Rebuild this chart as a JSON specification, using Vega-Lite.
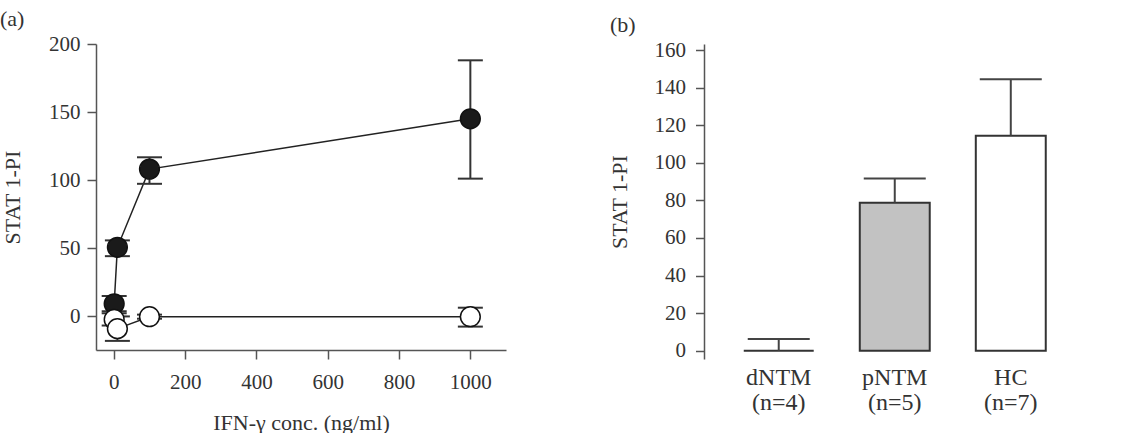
{
  "$schema": "https://vega.github.io/schema/vega-lite/v6.json",
  "padding": {"left": 0, "top": 7, "right": 0, "bottom": 0},
  "spacing": 102,
  "resolve": {"scale": {"fill": "independent"}},
  "config": {
    "font": "Liberation Serif",
    "view": {"stroke": null},
    "axis": {
      "labelFont": "Liberation Serif", "titleFont": "Liberation Serif",
      "labelColor": "#333", "titleColor": "#333",
      "domainColor": "#555", "tickColor": "#555",
      "domainWidth": 1.5, "tickWidth": 1.5,
      "grid": false, "labelFontSize": 21, "titleFontSize": 22, "titleFontWeight": "normal"
    },
    "title": {"font": "Liberation Serif", "fontSize": 22, "fontWeight": "normal", "color": "#333", "anchor": "start", "frame": "group", "offset": 2.3}
  },
  "hconcat": [
    {
      "width": 410, "height": 306,
      "title": {"text": "(a)", "dx": -96},
      "data": {"values": [
        {"conc": 1, "group": "stim", "mean": 9, "lo": 3.5, "hi": 14.7},
        {"conc": 10, "group": "stim", "mean": 50.5, "lo": 44, "hi": 55.6},
        {"conc": 100, "group": "stim", "mean": 108, "lo": 97.2, "hi": 116.7},
        {"conc": 1000, "group": "stim", "mean": 145, "lo": 101, "hi": 188},
        {"conc": 1, "group": "ctrl", "mean": -2.5, "lo": -7, "hi": 2},
        {"conc": 10, "group": "ctrl", "mean": -9.3, "lo": -18.3, "hi": -0.3},
        {"conc": 100, "group": "ctrl", "mean": -0.5, "lo": -2, "hi": 1},
        {"conc": 1000, "group": "ctrl", "mean": -0.5, "lo": -7.8, "hi": 6.1}
      ]},
      "encoding": {
        "x": {"field": "conc", "type": "quantitative",
          "scale": {"domain": [-50, 1100], "nice": false, "zero": false},
          "axis": {"values": [0, 200, 400, 600, 800, 1000], "format": "d", "title": "IFN-γ conc. (ng/ml)", "tickSize": 9, "labelPadding": 12, "titlePadding": 20}}
      },
      "layer": [
        {"mark": {"type": "line", "color": "#222", "strokeWidth": 1.5},
          "encoding": {
            "y": {"field": "mean", "type": "quantitative", "title": "STAT 1-PI",
              "scale": {"domain": [-25, 200], "nice": false, "zero": false},
              "axis": {"values": [0, 50, 100, 150, 200], "tickSize": 9, "labelPadding": 7, "titlePadding": 24}},
            "detail": {"field": "group"}}},
        {"mark": {"type": "rule", "color": "#333", "strokeWidth": 2},
          "encoding": {"y": {"field": "lo", "type": "quantitative", "title": "STAT 1-PI",
              "axis": {"values": [0, 50, 100, 150, 200], "tickSize": 9, "labelPadding": 7, "titlePadding": 24}}, "y2": {"field": "hi"}}},
        {"mark": {"type": "tick", "orient": "horizontal", "size": 25, "thickness": 2, "color": "#333", "opacity": 1},
          "encoding": {"y": {"field": "lo", "type": "quantitative", "title": "STAT 1-PI",
              "axis": {"values": [0, 50, 100, 150, 200], "tickSize": 9, "labelPadding": 7, "titlePadding": 24}}}},
        {"mark": {"type": "tick", "orient": "horizontal", "size": 25, "thickness": 2, "color": "#333", "opacity": 1},
          "encoding": {"y": {"field": "hi", "type": "quantitative", "title": "STAT 1-PI",
              "axis": {"values": [0, 50, 100, 150, 200], "tickSize": 9, "labelPadding": 7, "titlePadding": 24}}}},
        {"mark": {"type": "point", "shape": "circle", "filled": true, "size": 390, "stroke": "#111", "strokeWidth": 1.5, "opacity": 1},
          "encoding": {
            "y": {"field": "mean", "type": "quantitative", "title": "STAT 1-PI",
              "axis": {"values": [0, 50, 100, 150, 200], "tickSize": 9, "labelPadding": 7, "titlePadding": 24}},
            "fill": {"field": "group", "type": "nominal", "scale": {"domain": ["stim", "ctrl"], "range": ["#1a1a1a", "#ffffff"]}, "legend": null}}}
      ]
    },
    {
      "width": 444, "height": 315,
      "title": {"text": "(b)", "dx": -94},
      "data": {"values": [
        {"group": "dNTM|(n=4)", "mean": 0, "hi": 6.2},
        {"group": "pNTM|(n=5)", "mean": 78.8, "hi": 91.7},
        {"group": "HC|(n=7)", "mean": 114.4, "hi": 144.4}
      ]},
      "encoding": {
        "x": {"field": "group", "type": "nominal", "sort": null,
          "scale": {"paddingInner": 0.397, "paddingOuter": 0.612, "align": 0.28},
          "axis": {"title": null, "domain": false, "ticks": false, "labelAngle": 0, "labelFontSize": 24, "labelPadding": 6, "labelLineHeight": 25, "labelExpr": "split(datum.value, '|')"}}
      },
      "layer": [
        {"mark": {"type": "bar", "stroke": "#333", "strokeWidth": 2},
          "encoding": {
            "y": {"field": "mean", "type": "quantitative", "title": "STAT 1-PI",
              "scale": {"domain": [-4.4, 163.2], "nice": false, "zero": false},
              "axis": {"values": [0, 20, 40, 60, 80, 100, 120, 140, 160], "labelOverlap": false, "tickSize": 8.5, "labelPadding": 10, "titlePadding": 23}},
            "fill": {"field": "group", "type": "nominal", "scale": {"domain": ["dNTM|(n=4)", "pNTM|(n=5)", "HC|(n=7)"], "range": ["#ffffff", "#c2c2c2", "#ffffff"]}, "legend": null}}},
        {"mark": {"type": "rule", "color": "#444", "strokeWidth": 2},
          "encoding": {"y": {"field": "mean", "type": "quantitative", "title": "STAT 1-PI",
              "axis": {"values": [0, 20, 40, 60, 80, 100, 120, 140, 160], "labelOverlap": false, "tickSize": 8.5, "labelPadding": 10, "titlePadding": 23}}, "y2": {"field": "hi"}}},
        {"mark": {"type": "tick", "orient": "horizontal", "size": 62, "thickness": 2, "color": "#444", "opacity": 1},
          "encoding": {"y": {"field": "hi", "type": "quantitative", "title": "STAT 1-PI",
              "axis": {"values": [0, 20, 40, 60, 80, 100, 120, 140, 160], "labelOverlap": false, "tickSize": 8.5, "labelPadding": 10, "titlePadding": 23}}}},
        {"mark": {"type": "rule", "color": "#555", "strokeWidth": 1.5},
          "encoding": {"y": {"datum": 0, "type": "quantitative", "title": "STAT 1-PI",
              "axis": {"values": [0, 20, 40, 60, 80, 100, 120, 140, 160], "labelOverlap": false, "tickSize": 8.5, "labelPadding": 10, "titlePadding": 23}}}}
      ]
    }
  ]
}
